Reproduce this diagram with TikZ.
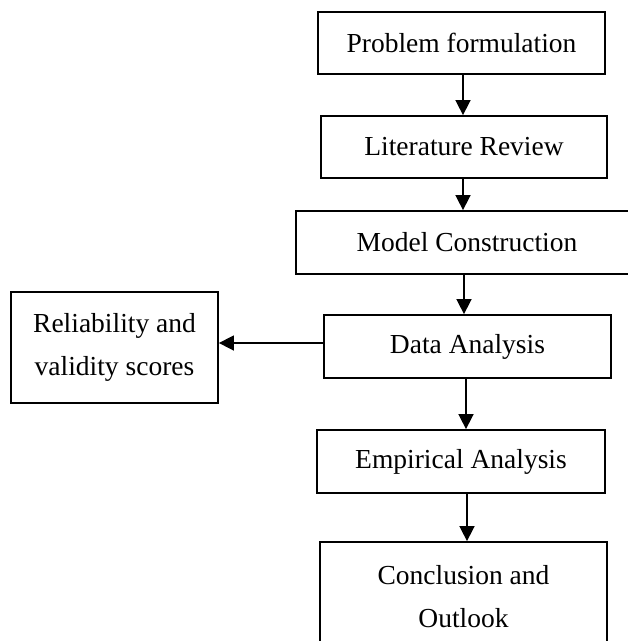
\documentclass[tikz,border=0pt]{standalone}
\usepackage{fontspec}
\setmainfont{Liberation Serif}
\usetikzlibrary{arrows.meta}
\begin{document}
\begin{tikzpicture}[x=1pt,y=-1pt,
  box/.style={draw,line width=1.8pt,rectangle,inner sep=0pt,align=center,
    font=\fontsize{27.5}{43}\selectfont},
  arr/.style={line width=1.6pt,-{Triangle[length=15pt,width=15pt]}}]
\useasboundingbox (0,0) rectangle (628,641);
\clip (0,0) rectangle (628,641);
\node[box,minimum width=287pt,minimum height=62pt] (prob) at (461.5,43) {Problem formulation};
\node[box,minimum width=286pt,minimum height=62pt] (lit) at (464,147) {Literature Review};
\node[box,minimum width=342pt,minimum height=63pt] (model) at (467,242.5) {Model Construction};
\node[box,minimum width=287pt,minimum height=63pt] (data) at (467.5,346.5) {Data Analysis};
\node[box,minimum width=207pt,minimum height=111pt] (rel) at (114.5,347.5) {Reliability and\\validity scores};
\node[box,minimum width=288pt,minimum height=63pt] (emp) at (461,461.5) {Empirical Analysis};
\node[box,minimum width=287pt,minimum height=110pt] (conc) at (463.5,597) {Conclusion and\\Outlook};
\coordinate (xa) at (463,0);
\coordinate (xb) at (464,0);
\coordinate (xc) at (466,0);
\coordinate (xd) at (467,0);
\coordinate (ya) at (0,343);
\draw[arr] (prob.south -| xa) -- (lit.north -| xa);
\draw[arr] (lit.south -| xa) -- (model.north -| xa);
\draw[arr] (model.south -| xb) -- (data.north -| xb);
\draw[arr] (data.south -| xc) -- (emp.north -| xc);
\draw[arr] (emp.south -| xd) -- (conc.north -| xd);
\draw[arr] (data.west |- ya) -- (rel.east |- ya);
\end{tikzpicture}
\end{document}
